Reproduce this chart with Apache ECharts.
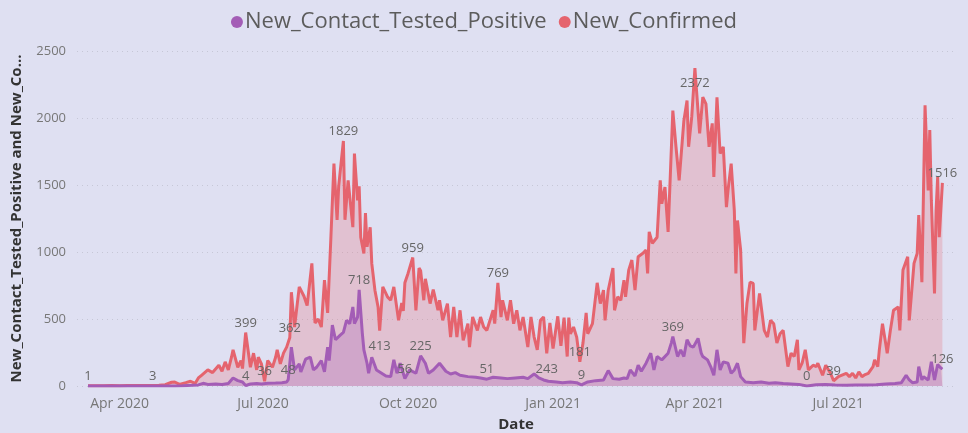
<!DOCTYPE html>
<html lang="en">
<head>
    <meta charset="UTF-8">
    <title>New_Contact_Tested_Positive and New_Confirmed</title>
    <style>
        html, body {
            margin: 0;
            padding: 0;
            background: #dfe0f2;
        }

        #chart {
            width: 968px;
            height: 433px;
        }
    </style>
</head>
<body>
<div id="chart"></div>
<script src="https://cdn.jsdelivr.net/npm/echarts@6/dist/echarts.min.js"></script>
<script>

    // days counted from the first day of the series (2020-03-12)
    var startDate = [2020, 2, 12];

    var confirmedDay = [0, 5, 10, 15, 20, 25, 30, 35, 41, 45, 49, 53, 55, 58, 62, 65, 68, 70,
        72, 76, 79, 83, 85, 87, 89, 91, 92, 95, 97, 98, 100, 103, 105, 107, 108, 110, 112, 114, 117, 119,
        120, 122, 124, 126, 128, 129, 131, 134, 137, 139, 142, 144, 146, 148, 150, 152, 154, 156, 158, 159,
        162, 163, 165, 168, 169, 171, 172, 173, 175, 176, 177, 179, 180, 182, 184, 185, 187, 190, 192, 194,
        197, 199, 200, 201, 203, 206, 208, 210, 211, 213, 214, 215, 217, 219, 222, 223, 225, 228, 230, 232,
        234, 236, 238, 241, 242, 244, 247, 249, 251, 253, 257, 258, 260, 262, 263, 266, 268, 270, 272, 274,
        276, 279, 281, 283, 285, 287, 289, 291, 293, 295, 298, 300, 302, 304, 305, 306, 308, 310, 312, 314,
        316, 317, 320, 323, 325, 327, 328, 330, 333, 334, 336, 338, 340, 341, 343, 345, 347, 349, 352, 354,
        355, 356, 358, 361, 363, 364, 366, 368, 371, 373, 375, 378, 380, 381, 383, 385, 388, 390, 392, 394,
        396, 397, 399, 401, 403, 405, 406, 408, 410, 411, 412, 414, 416, 418, 420, 422, 423, 426, 429, 431,
        433, 435, 437, 439, 441, 444, 446, 448, 450, 451, 453, 455, 457, 460, 462, 463, 466, 468, 471, 473,
        476, 477, 481, 483, 485, 487, 489, 491, 493, 495, 498, 499, 501, 502, 504, 506, 507, 509, 511, 514,
        515, 517, 518, 520, 521, 524, 526, 527, 529, 530, 531, 533, 534, 535, 537, 538, 539, 540, 542];

    var confirmedValue = [1, 2, 2, 3, 2, 4, 3, 4, 3, 6, 10, 28, 30, 12, 25, 35, 20, 60,
        80, 120, 100, 155, 110, 180, 120, 215, 270, 140, 190, 130, 399, 140, 245, 120, 215, 165, 36, 190, 140, 215,
        270, 165, 245, 290, 362, 700, 440, 740, 670, 600, 915, 470, 500, 440, 790, 545, 1090, 1660, 1240, 1490,
        1829, 1240, 1535, 1185, 1735, 1385, 1490, 1110, 990, 1290, 1040, 1185, 915, 715, 590, 413, 740, 665, 640, 740,
        490, 620, 560, 770, 840, 959, 565, 880, 860, 640, 800, 740, 615, 720, 565, 640, 490, 615, 365, 590,
        365, 565, 340, 465, 290, 515, 415, 515, 440, 415, 565, 465, 769, 515, 640, 490, 640, 465, 565, 415,
        515, 290, 515, 365, 270, 490, 515, 243, 470, 280, 520, 300, 510, 220, 510, 390, 440, 365, 181, 320,
        545, 390, 465, 770, 615, 715, 490, 715, 880, 565, 665, 640, 790, 665, 865, 940, 715, 965, 990, 1015,
        840, 1150, 1065, 1110, 1535, 1360, 1485, 1150, 2055, 1785, 1535, 1980, 2130, 1785, 2010, 2372, 1885, 2155, 2105, 1785,
        1960, 1560, 2155, 1735, 1785, 1335, 1460, 1660, 1310, 840, 1235, 1015, 320, 615, 775, 765, 415, 690, 415, 365,
        490, 465, 320, 390, 415, 145, 245, 220, 345, 120, 170, 270, 120, 155, 145, 170, 80, 155, 95, 39,
        70, 70, 95, 70, 95, 60, 105, 70, 85, 95, 145, 195, 145, 270, 465, 320, 245, 415, 565, 590,
        415, 865, 865, 965, 490, 915, 990, 1275, 775, 1440, 2095, 1460, 1910, 1385, 690, 1310, 1560, 1110, 1516];

    var contactDay = [0, 20, 40, 55, 60, 66, 70, 73, 76, 81, 85, 89, 92, 95, 98, 100, 103, 107, 110, 114,
        119, 123, 126, 127, 129, 131, 134, 135, 138, 141, 143, 145, 148, 150, 152, 153, 155, 157, 160, 162,
        164, 166, 168, 169, 171, 172, 174, 175, 177, 178, 180, 183, 187, 189, 192, 194, 196, 198, 201, 204,
        208, 211, 214, 216, 219, 223, 227, 230, 233, 236, 241, 246, 249, 253, 257, 262, 266, 271, 276, 279,
        283, 286, 289, 292, 297, 301, 306, 310, 313, 317, 322, 327, 330, 333, 337, 340, 342, 344, 347, 349,
        351, 354, 357, 359, 361, 364, 368, 370, 371, 374, 376, 378, 380, 382, 384, 387, 389, 390, 393, 395,
        397, 399, 401, 403, 406, 408, 410, 412, 414, 417, 422, 427, 432, 436, 441, 446, 451, 456, 462, 468,
        474, 481, 487, 493, 500, 506, 512, 516, 519, 521, 523, 526, 527, 529, 530, 533, 535, 537, 539, 541, 542];

    var contactValue = [0, 0, 0, 0, 2, 5, 8, 20, 12, 15, 12, 18, 60, 40, 30, 4, 15, 18, 15, 20,
        22, 25, 30, 48, 290, 120, 165, 105, 200, 215, 120, 140, 190, 105, 290, 190, 455, 345, 380, 400,
        490, 465, 590, 465, 515, 718, 395, 270, 170, 95, 215, 120, 90, 75, 70, 195, 95, 170, 56, 120,
        95, 225, 170, 95, 120, 170, 110, 90, 100, 80, 70, 65, 60, 51, 65, 60, 55, 60, 65, 55,
        90, 60, 45, 35, 30, 25, 30, 25, 9, 30, 40, 45, 115, 55, 50, 60, 55, 120, 75, 155,
        110, 170, 245, 120, 220, 195, 245, 320, 369, 220, 270, 220, 345, 300, 290, 355, 245, 220, 195, 145,
        80, 270, 120, 180, 170, 95, 120, 170, 70, 30, 25, 30, 20, 25, 18, 15, 12, 0, 10, 12,
        8, 6, 8, 8, 10, 15, 18, 25, 80, 45, 25, 30, 145, 45, 70, 45, 180, 45, 160, 135, 126];

    // points that carry a data label, and those whose label sits under the point
    var confirmedLabelDays = [0, 41, 100, 112, 128, 162, 185, 206, 260, 291, 312, 385, 473, 542];
    var confirmedLabelBelow = [185, 291, 385];
    var contactLabelDays = [100, 127, 172, 201, 211, 253, 313, 371, 456, 542];

    var tickDates = ['2020-04-01', '2020-07-01', '2020-10-01', '2021-01-01', '2021-04-01', '2021-07-01'];
    var tickLabels = ['Apr 2020', 'Jul 2020', 'Oct 2020', 'Jan 2021', 'Apr 2021', 'Jul 2021'];

    // day offset of a 'YYYY-MM-DD' date from the start date
    var dayOf = function (s) {
        var p = s.split('-');
        var t = Date.UTC(+p[0], +p[1] - 1, +p[2]);
        var t0 = Date.UTC(startDate[0], startDate[1], startDate[2]);
        return Math.round((t - t0) / 86400000);
    };

    var build = function (days, values, labelDays, below) {
        var data = [];
        days.map(function (d, i) {
            var item = {value: [d, values[i]]};
            if (labelDays.indexOf(d) >= 0) {
                var under = below.indexOf(d) >= 0;
                item.label = {
                    show: true,
                    position: under ? 'bottom' : 'top',
                    distance: under ? 9 : 3
                };
            }
            data.push(item);
        });
        return data;
    };

    var tickDays = tickDates.map(dayOf);
    var labelText = {};
    tickDays.map(function (d, i) {
        labelText[d] = tickLabels[i];
    });

    var font = '"Open Sans", "Noto Sans", sans-serif';

    var makeSeries = function (name, color, fill, data) {
        return {
            name: name,
            type: 'line',
            data: data,
            symbol: 'circle',
            symbolSize: 0,
            showSymbol: true,
            showAllSymbol: true,
            animation: false,
            lineStyle: {
                color: color,
                width: 3
            },
            itemStyle: {
                color: color
            },
            areaStyle: {
                color: fill
            },
            label: {
                show: false,
                color: '#666',
                fontSize: 13,
                fontFamily: font,
                formatter: function (p) {
                    return p.value[1];
                }
            },
            emphasis: {
                disabled: true
            }
        };
    };

    var option = {
        backgroundColor: '#dfe0f2',
        textStyle: {
            fontFamily: font
        },
        legend: {
            top: 6,
            left: 'center',
            icon: 'circle',
            itemWidth: 12,
            itemHeight: 12,
            itemGap: 12,
            data: ['New_Contact_Tested_Positive', 'New_Confirmed'],
            textStyle: {
                color: '#5c5c5c',
                fontSize: 22,
                fontFamily: font,
                padding: [0, 0, 0, -3]
            }
        },
        grid: {
            left: 77,
            right: 13,
            top: 51,
            bottom: 47,
            outerBoundsMode: 'none',
            containLabel: false
        },
        xAxis: {
            type: 'value',
            min: -7,
            max: 550,
            name: 'Date',
            nameLocation: 'middle',
            nameGap: 31,
            nameTextStyle: {
                color: '#333',
                fontSize: 15,
                fontWeight: 'bold'
            },
            axisLine: {show: false},
            axisTick: {show: false},
            splitLine: {show: false},
            axisLabel: {
                customValues: tickDays,
                color: '#777',
                fontSize: 14,
                margin: 11,
                formatter: function (v) {
                    return labelText[v] || '';
                }
            }
        },
        yAxis: {
            type: 'value',
            min: 0,
            max: 2500,
            interval: 500,
            name: 'New_Contact_Tested_Positive and New_Co…',
            nameLocation: 'middle',
            nameGap: 53,
            nameTextStyle: {
                color: '#333',
                fontSize: 15,
                fontWeight: 'bold'
            },
            axisLine: {show: false},
            axisTick: {show: false},
            axisLabel: {
                color: '#777',
                fontSize: 13,
                margin: 11,
                formatter: function (v) {
                    return String(v);
                }
            },
            splitLine: {
                lineStyle: {
                    color: '#c6c7d6',
                    type: [1, 4],
                    width: 1
                }
            }
        },
        series: [
            makeSeries('New_Confirmed', '#e5646e', 'rgba(230, 100, 110, 0.36)',
                build(confirmedDay, confirmedValue, confirmedLabelDays, confirmedLabelBelow)),
            makeSeries('New_Contact_Tested_Positive', '#a35db6', 'rgba(163, 93, 182, 0.38)',
                build(contactDay, contactValue, contactLabelDays, []))
        ]
    };

    var myChart = echarts.init(document.getElementById('chart'));
    myChart.setOption(option);
</script>
</body>
</html>
